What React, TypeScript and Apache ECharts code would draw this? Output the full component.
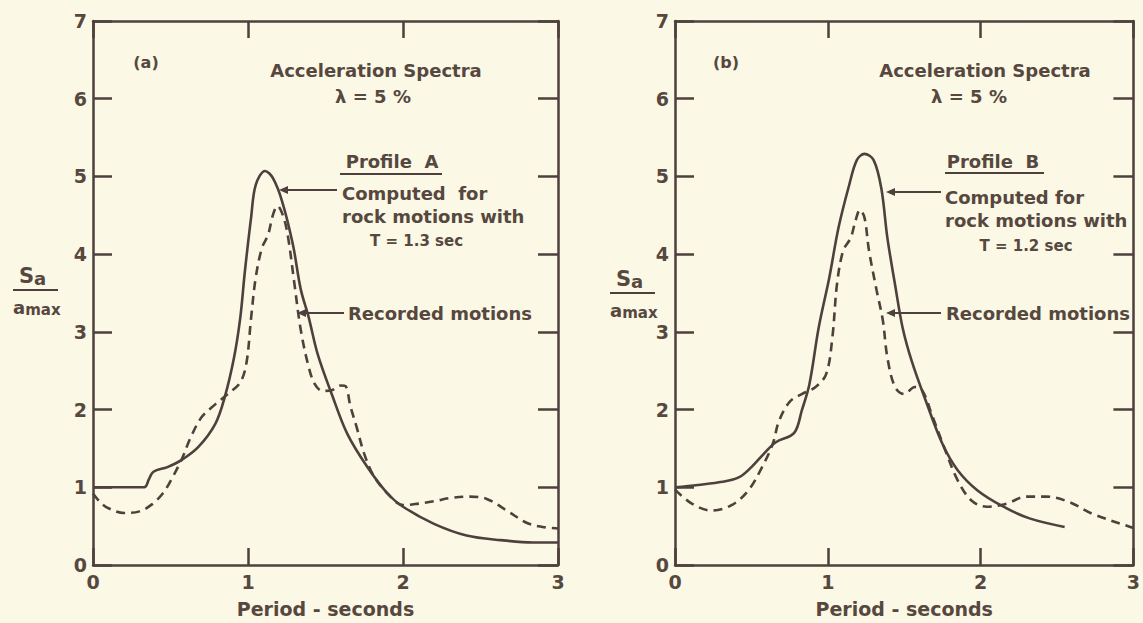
import React, { useEffect, useRef } from "react";
import * as echarts from "echarts";

// Period (s) tick values and Sa/amax tick values
const xTickValues = [0, 1, 2, 3];
const yTickValues = [0, 1, 2, 3, 4, 5, 6, 7];

// Panel (a) – Profile A
const computedA: [number, number][] = [
  [0, 1.0], [0.33, 1.0], [0.36, 1.1], [0.39, 1.2], [0.48, 1.26], [0.57, 1.35],
  [0.68, 1.52], [0.79, 1.82], [0.85, 2.16], [0.91, 2.67], [0.95, 3.18], [0.98, 3.78],
  [1.02, 4.47], [1.05, 4.89], [1.11, 5.07], [1.16, 4.98], [1.22, 4.68], [1.29, 4.12],
  [1.34, 3.55], [1.39, 3.2], [1.45, 2.71], [1.54, 2.2], [1.64, 1.69], [1.77, 1.26],
  [1.9, 0.92], [2.0, 0.75], [2.2, 0.53], [2.41, 0.38], [2.63, 0.32], [2.84, 0.29], [3.0, 0.29],
];
const recordedA: [number, number][] = [
  [0, 0.92], [0.05, 0.8], [0.1, 0.73], [0.2, 0.67], [0.3, 0.69], [0.38, 0.78], [0.45, 0.92],
  [0.5, 1.08], [0.57, 1.35], [0.63, 1.64], [0.7, 1.9], [0.79, 2.07], [0.87, 2.2], [0.95, 2.35],
  [0.99, 2.6], [1.02, 3.18], [1.05, 3.7], [1.09, 4.08], [1.13, 4.25], [1.16, 4.5], [1.19, 4.62],
  [1.23, 4.47], [1.26, 4.2], [1.3, 3.61], [1.34, 3.03], [1.39, 2.56], [1.43, 2.33], [1.48, 2.24],
  [1.54, 2.25], [1.6, 2.31], [1.63, 2.3], [1.66, 2.05], [1.7, 1.78], [1.75, 1.43], [1.81, 1.15],
  [1.9, 0.92], [2.0, 0.77], [2.1, 0.79], [2.2, 0.82], [2.3, 0.86], [2.43, 0.88], [2.54, 0.85],
  [2.67, 0.7], [2.8, 0.54], [2.9, 0.49], [3.0, 0.47],
];

// Panel (b) – Profile B
const computedB: [number, number][] = [
  [0, 1.0], [0.15, 1.03], [0.31, 1.07], [0.42, 1.13], [0.5, 1.26], [0.59, 1.45], [0.66, 1.58],
  [0.78, 1.7], [0.83, 1.99], [0.88, 2.33], [0.94, 3.05], [1.01, 3.7], [1.07, 4.34], [1.14, 4.89],
  [1.19, 5.21], [1.24, 5.29], [1.3, 5.21], [1.35, 4.85], [1.39, 4.21], [1.44, 3.61], [1.49, 3.05],
  [1.55, 2.62], [1.64, 2.12], [1.75, 1.56], [1.85, 1.22], [1.98, 0.96], [2.15, 0.75], [2.32, 0.6],
  [2.55, 0.49],
];
const recordedB: [number, number][] = [
  [0, 0.97], [0.11, 0.79], [0.24, 0.7], [0.37, 0.77], [0.48, 0.96], [0.57, 1.26], [0.64, 1.56],
  [0.68, 1.85], [0.75, 2.1], [0.83, 2.2], [0.92, 2.29], [0.99, 2.46], [1.03, 2.93], [1.06, 3.61],
  [1.1, 4.04], [1.15, 4.21], [1.18, 4.42], [1.21, 4.57], [1.24, 4.47], [1.27, 4.04], [1.32, 3.53],
  [1.36, 3.15], [1.39, 2.67], [1.44, 2.29], [1.5, 2.2], [1.57, 2.29], [1.62, 2.24], [1.68, 1.94],
  [1.77, 1.47], [1.85, 1.09], [1.94, 0.83], [2.04, 0.75], [2.17, 0.79], [2.3, 0.88], [2.43, 0.88],
  [2.58, 0.81], [2.73, 0.66], [2.98, 0.49], [3.0, 0.48],
];

const INK = "#4e403c";
const TXT = "#56473f";
const BG = "#fbf8e5";
const FONT = "DejaVu Sans";

export default function App() {
  const ref = useRef<HTMLDivElement>(null);

  useEffect(() => {
    if (!ref.current) return;
    const chart = echarts.init(ref.current, undefined, { renderer: "svg" });

    const grids = [
      { left: 93, top: 21, width: 465, height: 544 },
      { left: 675, top: 21, width: 465, height: 544 },
    ];

    const xMin = xTickValues[0];
    const xMax = xTickValues[xTickValues.length - 1];
    const yMin = yTickValues[0];
    const yMax = yTickValues[yTickValues.length - 1];

    const axisLine = { show: true, onZero: false, lineStyle: { color: INK, width: 2.5 } };
    const tick = (len: number) => ({ show: true, inside: true, length: len, lineStyle: { color: INK, width: 2.5 } });
    const labelStyle = { show: true, fontSize: 19, fontWeight: "bold", color: TXT, fontFamily: FONT };

    const xAxes: any[] = [];
    const yAxes: any[] = [];
    [0, 1].forEach((g) => {
      xAxes.push({
        type: "value", gridIndex: g, position: "bottom", min: xMin, max: xMax, interval: 1,
        axisLine, axisTick: tick(17), splitLine: { show: false },
        axisLabel: { ...labelStyle, margin: 7 },
        name: "Period - seconds", nameLocation: "middle", nameGap: 34,
        nameTextStyle: { fontSize: 19, fontWeight: "bold", color: TXT, fontFamily: FONT },
      });
      xAxes.push({
        type: "value", gridIndex: g, position: "top", min: xMin, max: xMax, interval: 1,
        axisLine, axisTick: tick(17), splitLine: { show: false }, axisLabel: { show: false },
      });
      yAxes.push({
        type: "value", gridIndex: g, position: "left", min: yMin, max: yMax, interval: 1,
        axisLine, axisTick: tick(19), splitLine: { show: false },
        axisLabel: { ...labelStyle, margin: 6 },
      });
      yAxes.push({
        type: "value", gridIndex: g, position: "right", min: yMin, max: yMax, interval: 1,
        axisLine, axisTick: tick(20), splitLine: { show: false }, axisLabel: { show: false },
      });
    });

    const solid = { color: INK, width: 2.6, type: "solid" as const };
    const dashed = { color: INK, width: 2.6, type: [9, 6] as any };
    const mk = (name: string, data: [number, number][], g: number, style: any) => ({
      name, type: "line", data, xAxisIndex: g * 2, yAxisIndex: g * 2,
      showSymbol: false, smooth: 0.35, lineStyle: style, silent: true,
    });

    const txt = (x: number, y: number, text: string, size = 17, align = "left") => ({
      type: "text", x, y,
      style: { text, fontSize: size, fontWeight: "bold", fill: TXT, fontFamily: FONT, align, verticalAlign: "middle" },
    });
    const arrow = (x1: number, x2: number, y: number) => [
      { type: "line", shape: { x1, y1: y, x2: x2 + 6, y2: y }, style: { stroke: INK, lineWidth: 2 } },
      { type: "polygon", shape: { points: [[x2, y], [x2 + 9, y - 4], [x2 + 9, y + 4]] }, style: { fill: INK } },
    ];
    const yName = (x: number, y: number) => [
      {
        type: "text", x: x + 6, y: y - 14,
        style: {
          text: "{s|S}{a|a}", fill: TXT, verticalAlign: "middle",
          rich: {
            s: { fontSize: 21, fontWeight: "bold", fontFamily: FONT, fill: TXT },
            a: { fontSize: 18, fontWeight: "bold", fontFamily: FONT, fill: TXT, padding: [5, 0, 0, 0] },
          },
        },
      },
      { type: "line", shape: { x1: x, y1: y, x2: x + 45, y2: y }, style: { stroke: INK, lineWidth: 2.2 } },
      {
        type: "text", x: x, y: y + 17,
        style: {
          text: "{a|a}{m|max}", fill: TXT, verticalAlign: "middle",
          rich: {
            a: { fontSize: 18, fontWeight: "bold", fontFamily: FONT, fill: TXT },
            m: { fontSize: 15, fontWeight: "bold", fontFamily: FONT, fill: TXT, padding: [6, 0, 0, 0] },
          },
        },
      },
    ];

    const graphic: any[] = [
      // Panel (a)
      txt(146, 62, "(a)", 16, "center"),
      txt(376, 70, "Acceleration Spectra", 18, "center"),
      txt(373, 96, "λ = 5 %", 18, "center"),
      txt(392, 161, "Profile  A", 18, "center"),
      { type: "line", shape: { x1: 340, y1: 174, x2: 442, y2: 174 }, style: { stroke: INK, lineWidth: 2.2 } },
      txt(342, 193, "Computed  for", 18),
      txt(342, 216, "rock motions with", 18),
      txt(370, 241, "T = 1.3 sec", 15),
      ...arrow(337, 279, 190),
      txt(348, 313, "Recorded motions", 18),
      ...arrow(344, 297, 313),
      ...yName(13, 290),
      // Panel (b)
      txt(726, 62, "(b)", 16, "center"),
      txt(985, 70, "Acceleration Spectra", 18, "center"),
      txt(969, 96, "λ = 5 %", 18, "center"),
      txt(993, 161, "Profile  B", 18, "center"),
      { type: "line", shape: { x1: 945, y1: 173, x2: 1044, y2: 173 }, style: { stroke: INK, lineWidth: 2.2 } },
      txt(945, 197, "Computed for", 18),
      txt(945, 220, "rock motions with", 18),
      txt(1026, 246, "T = 1.2 sec", 15, "center"),
      ...arrow(941, 886, 192),
      txt(946, 313, "Recorded motions", 18),
      ...arrow(941, 886, 313),
      ...yName(610, 293),
    ];

    chart.setOption({
      animation: false,
      backgroundColor: BG,
      textStyle: { fontFamily: FONT },
      grid: grids,
      xAxis: xAxes,
      yAxis: yAxes,
      series: [
        mk("Computed A", computedA, 0, solid),
        mk("Recorded A", recordedA, 0, dashed),
        mk("Computed B", computedB, 1, solid),
        mk("Recorded B", recordedB, 1, dashed),
      ],
      graphic,
    });

    return () => chart.dispose();
  }, []);

  return (
    <div
      ref={ref}
      style={{ position: "absolute", left: 0, top: 0, width: 1143, height: 623 }}
    />
  );
}
